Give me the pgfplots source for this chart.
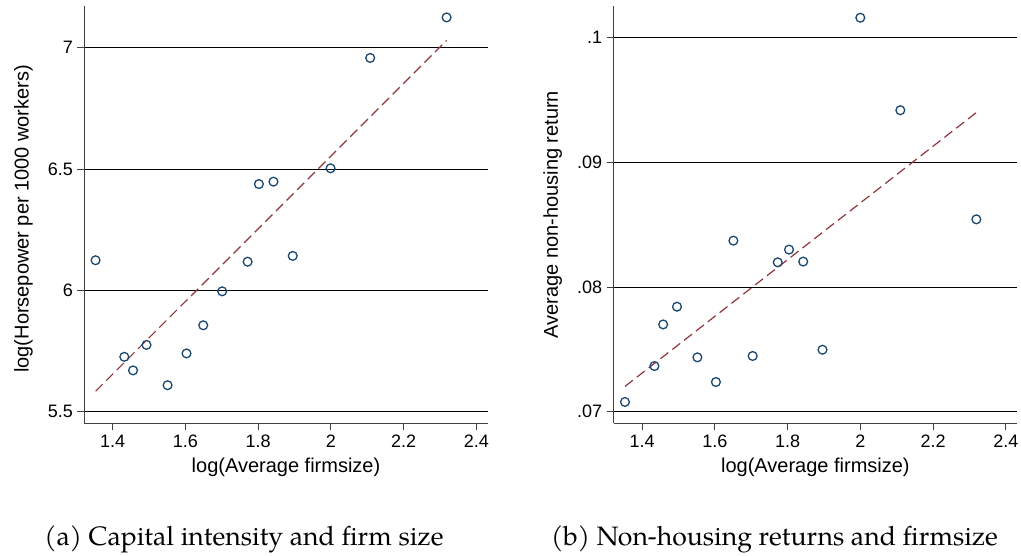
\documentclass[border=0pt]{standalone}
\usepackage{pgfplots}
\pgfplotsset{compat=1.18}
\usepackage{fontspec}
\newfontfamily\arialf{Liberation Sans}
\newfontfamily\capfont{TeX Gyre Pagella}
\definecolor{statanavy}{RGB}{26,71,111}
\definecolor{statamaroon}{RGB}{144,53,59}
\pgfplotsset{
  statastyle/.style={
    scale only axis,
    width=403.4bp, height=417.3bp,
    axis x line*=bottom, axis y line*=left,
    axis line style={black!75, line width=1bp},
    tick align=outside,
    major tick length=7bp,
    every tick/.style={black!75, line width=1bp},
    ymajorgrids,
    grid style={black, line width=0.9bp},
    xmin=1.322, xmax=2.431,
    xtick={1.4,1.6,1.8,2,2.2,2.4},
    xticklabels={1.4,1.6,1.8,2,2.2,2.4},
    /pgf/number format/assume math mode=true,
    tick label style={font=\arialf\fontsize{18bp}{20bp}\selectfont},
    label style={font=\arialf\fontsize{20bp}{22bp}\selectfont},
    xlabel style={at={(axis description cs:0.5,-0.1047)}, anchor=center},
    xticklabel style={yshift=-1bp},
    yticklabel style={xshift=-1bp},
    clip=false,
  },
  scat/.style={only marks, mark=o, mark size=4.4bp, mark options={draw=statanavy, line width=1.3bp}},
  fitl/.style={no marks, statamaroon, line width=1.2bp, dash pattern=on 10bp off 5bp},
}
\begin{document}
\begin{tikzpicture}
\useasboundingbox (-84.3bp,-132.7bp) rectangle (936.7bp,423.3bp);
% Left panel
\begin{axis}[statastyle, at={(0,0)}, anchor=south west,
  ymin=5.452, ymax=7.172,
  ytick={5.5,6,6.5,7}, yticklabels={5.5,6,6.5,7},
  xlabel={log(Average firmsize)},
  ylabel={log(Horsepower per 1000 workers)},
  ylabel style={at={(axis description cs:-0.151,0.49)}, anchor=center},
]
\addplot[scat] coordinates {
(1.353,6.124) (2.318,7.125) (2.108,6.958) (1.999,6.503) (1.802,6.438)
(1.842,6.448) (1.771,6.118) (1.895,6.142) (1.701,5.996) (1.649,5.856)
(1.493,5.775) (1.432,5.726) (1.456,5.670) (1.551,5.609) (1.603,5.740)
};
\addplot[fitl] coordinates {(1.353,5.584) (2.318,7.030)};
\end{axis}
% Right panel
\begin{axis}[statastyle, at={(529.4bp,0)}, anchor=south west,
  ymin=0.06907, ymax=0.10254,
  ytick={0.07,0.08,0.09,0.1}, yticklabels={.07,.08,.09,.1},
  xlabel={log(Average firmsize)},
  ylabel={Average non-housing return},
  ylabel style={at={(axis description cs:-0.1515,0.5)}, anchor=center},
]
\addplot[scat] coordinates {
(2.000,0.1016) (2.110,0.09418) (2.319,0.08543) (1.651,0.08372) (1.804,0.0830)
(1.773,0.08198) (1.843,0.08204) (1.496,0.07842) (1.458,0.0770) (1.434,0.07366)
(1.353,0.07078) (1.552,0.07436) (1.603,0.07238) (1.704,0.07447) (1.896,0.07497)
};
\addplot[fitl] coordinates {(1.353,0.07203) (2.320,0.09402)};
\end{axis}
\node[anchor=base, font=\capfont\fontsize{26.6bp}{28bp}\selectfont] at (159.7bp,-121.7bp) {(a) Capital intensity and firm size};
\node[anchor=base, font=\capfont\fontsize{26.6bp}{28bp}\selectfont] at (690.2bp,-121.7bp) {(b) Non-housing returns and firmsize};
\end{tikzpicture}
\end{document}
